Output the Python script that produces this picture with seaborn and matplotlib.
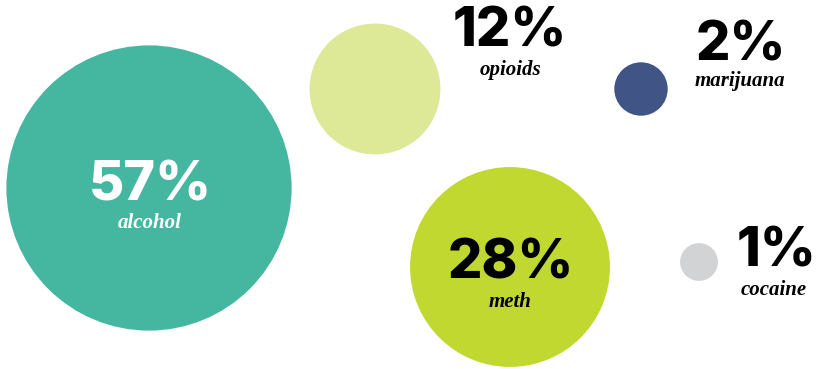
import pandas as pd
import seaborn as sns
import matplotlib.pyplot as plt

sns.set_style('white')

drugs = ['alcohol', 'opioids', 'marijuana', 'meth', 'cocaine']
pct = [57, 12, 2, 28, 1]
# bubble layout (pixel-like canvas units, y pointing down)
bx = [149, 375, 641, 510, 699]
by = [188, 89, 89, 267, 262]
colors = ['#45B7A0', '#DDE996', '#415486', '#C1D831', '#D2D3D5']

# label anchor positions
num_x = [150, 510, 741, 511, 776]
num_y = [186, 32, 46, 264, 252]
lab_x = [150, 510, 740, 510, 774]
lab_y = [223, 70, 81, 302, 290]
num_col = ['white', 'black', 'black', 'black', 'black']
lab_col = ['white', 'black', 'black', 'black', 'black']

df = pd.DataFrame({'drug': drugs, 'pct': pct, 'x': bx, 'y': by})

W, H = 822, 369
fig = plt.figure(figsize=(W / 100, H / 100), dpi=100)
ax = fig.add_axes([0, 0, 1, 1])

# area proportional to percentage: diameter 27.2pt * sqrt(pct)
k = 27.2 ** 2
sns.scatterplot(data=df, x='x', y='y', hue='drug', palette=dict(zip(drugs, colors)),
                size='pct', sizes=(k * min(pct), k * max(pct)),
                size_norm=(min(pct), max(pct)), linewidth=0, alpha=1,
                legend=False, ax=ax)

for i, d in enumerate(drugs):
    ax.text(num_x[i], num_y[i], f'{pct[i]}%', ha='center', va='center',
            fontsize=39, fontweight='heavy', family=['Inter', 'DejaVu Sans'],
            color=num_col[i])
    ax.text(lab_x[i], lab_y[i], d, ha='center', va='center', fontsize=15,
            fontstyle='italic', fontweight='bold',
            family=['Liberation Serif', 'DejaVu Serif'], color=lab_col[i])

ax.set_xlim(0, W)
ax.set_ylim(H, 0)
ax.set_axis_off()
plt.savefig('out.png', dpi=100)
